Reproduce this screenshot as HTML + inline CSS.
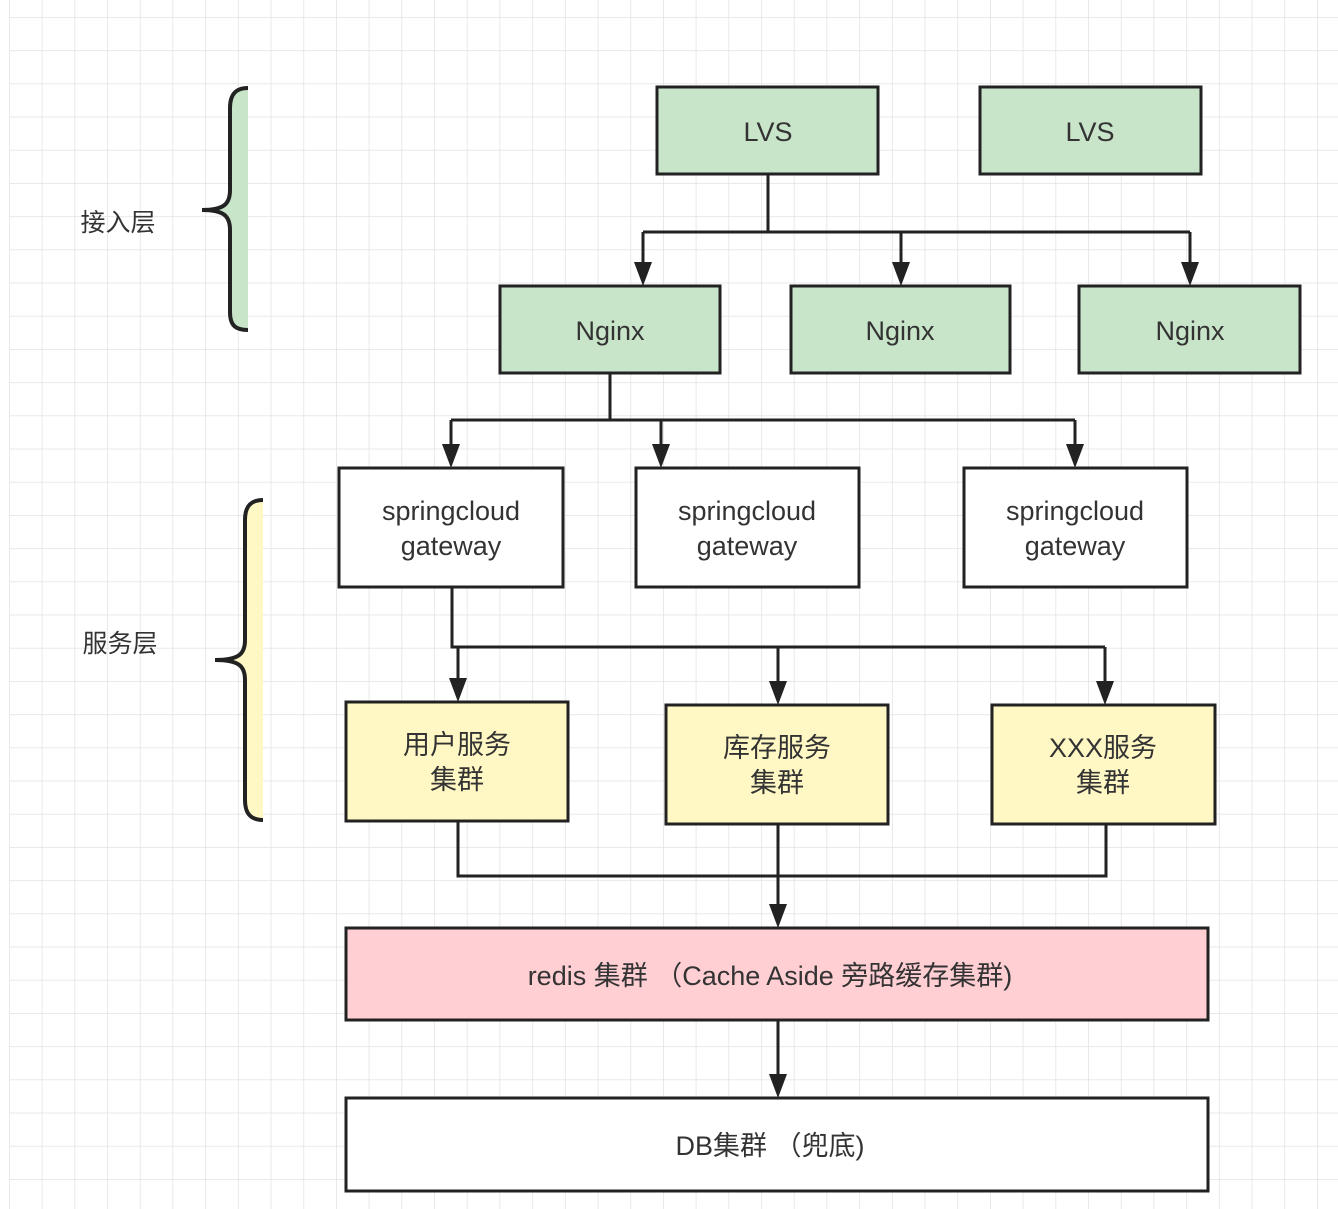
<!DOCTYPE html>
<html><head><meta charset="utf-8"><style>
html,body{margin:0;padding:0;background:#fff}
svg{display:block}
text{font-family:"Liberation Sans","Noto Sans CJK SC",sans-serif;fill:#333;text-anchor:middle}
</style></head><body>
<svg width="1338" height="1209" viewBox="0 0 1338 1209" xmlns="http://www.w3.org/2000/svg">
<defs>
<pattern id="g" x="9" y="17" width="32.7" height="33.2" patternUnits="userSpaceOnUse">
<path d="M0 0H32.7M0 0V33.2" stroke="#e2e2e2" stroke-width="1.5" fill="none"/>
</pattern>
</defs>
<rect x="9" y="0" width="1329" height="1209" fill="url(#g)"/>
<g stroke="#222" stroke-width="3" fill="none">
<path d="M768 174V232M643 232H1190M643 232V266M901 232V266M1190 232V266"/>
<path d="M610 373V420M451 420H1075M451 420V448M661 420V448M1075 420V448"/>
<path d="M452 587V647H1105M458 647V682M778 647V685M1105 647V685"/>
<path d="M458 821V876H1106V824M778 824V908M778 1020V1078"/>
</g>
<g fill="#222">
<path d="M634 262H652L643 286Z"/><path d="M892 262H910L901 286Z"/><path d="M1181 262H1199L1190 286Z"/>
<path d="M442 444H460L451 468Z"/><path d="M652 444H670L661 468Z"/><path d="M1066 444H1084L1075 468Z"/>
<path d="M449 678H467L458 702Z"/><path d="M769 681H787L778 705Z"/><path d="M1096 681H1114L1105 705Z"/>
<path d="M769 904H787L778 928Z"/><path d="M769 1074H787L778 1098Z"/>
</g>
<g stroke="#222" stroke-width="3">
<rect x="657" y="87" width="221" height="87" fill="#c8e5c9"/>
<rect x="980" y="87" width="221" height="87" fill="#c8e5c9"/>
<rect x="500" y="286" width="220" height="87" fill="#c8e5c9"/>
<rect x="791" y="286" width="219" height="87" fill="#c8e5c9"/>
<rect x="1079" y="286" width="221" height="87" fill="#c8e5c9"/>
<rect x="339" y="468" width="224" height="119" fill="#fff"/>
<rect x="636" y="468" width="223" height="119" fill="#fff"/>
<rect x="964" y="468" width="223" height="119" fill="#fff"/>
<rect x="346" y="702" width="222" height="119" fill="#fff8c4"/>
<rect x="666" y="705" width="222" height="119" fill="#fff8c4"/>
<rect x="992" y="705" width="223" height="119" fill="#fff8c4"/>
<rect x="346" y="928" width="862" height="92" fill="#ffcfd4"/>
<rect x="346" y="1098" width="862" height="93" fill="#fff"/>
</g>
<path d="M248 88C236 88 230 94 230 108V190C230 204 224 210 202 210C224 210 230 216 230 230V312C230 326 236 330 248 330Z" fill="#c8e5c9" stroke="none"/>
<path d="M248 88C236 88 230 94 230 108V190C230 204 224 210 202 210C224 210 230 216 230 230V312C230 326 236 330 248 330" fill="none" stroke="#222" stroke-width="4"/>
<path d="M263 500C251 500 245 506 245 520V640C245 654 239 660 215 660C239 660 245 666 245 680V800C245 814 251 820 263 820Z" fill="#fff8c4" stroke="none"/>
<path d="M263 500C251 500 245 506 245 520V640C245 654 239 660 215 660C239 660 245 666 245 680V800C245 814 251 820 263 820" fill="none" stroke="#222" stroke-width="4"/>
<g font-size="27">
<text x="118" y="231" font-size="25">接入层</text>
<text x="120" y="652" font-size="25">服务层</text>
<text x="768" y="141">LVS</text>
<text x="1090" y="141">LVS</text>
<text x="610" y="340">Nginx</text>
<text x="900" y="340">Nginx</text>
<text x="1190" y="340">Nginx</text>
<text x="451" y="520">springcloud</text><text x="451" y="555">gateway</text>
<text x="747" y="520">springcloud</text><text x="747" y="555">gateway</text>
<text x="1075" y="520">springcloud</text><text x="1075" y="555">gateway</text>
<text x="457" y="754">用户服务</text><text x="457" y="789">集群</text>
<text x="777" y="757">库存服务</text><text x="777" y="792">集群</text>
<text x="1103" y="757">XXX服务</text><text x="1103" y="792">集群</text>
<text x="770" y="985">redis 集群 （Cache Aside 旁路缓存集群)</text>
<text x="770" y="1155">DB集群 （兜底)</text>
</g>
</svg>
</body></html>
